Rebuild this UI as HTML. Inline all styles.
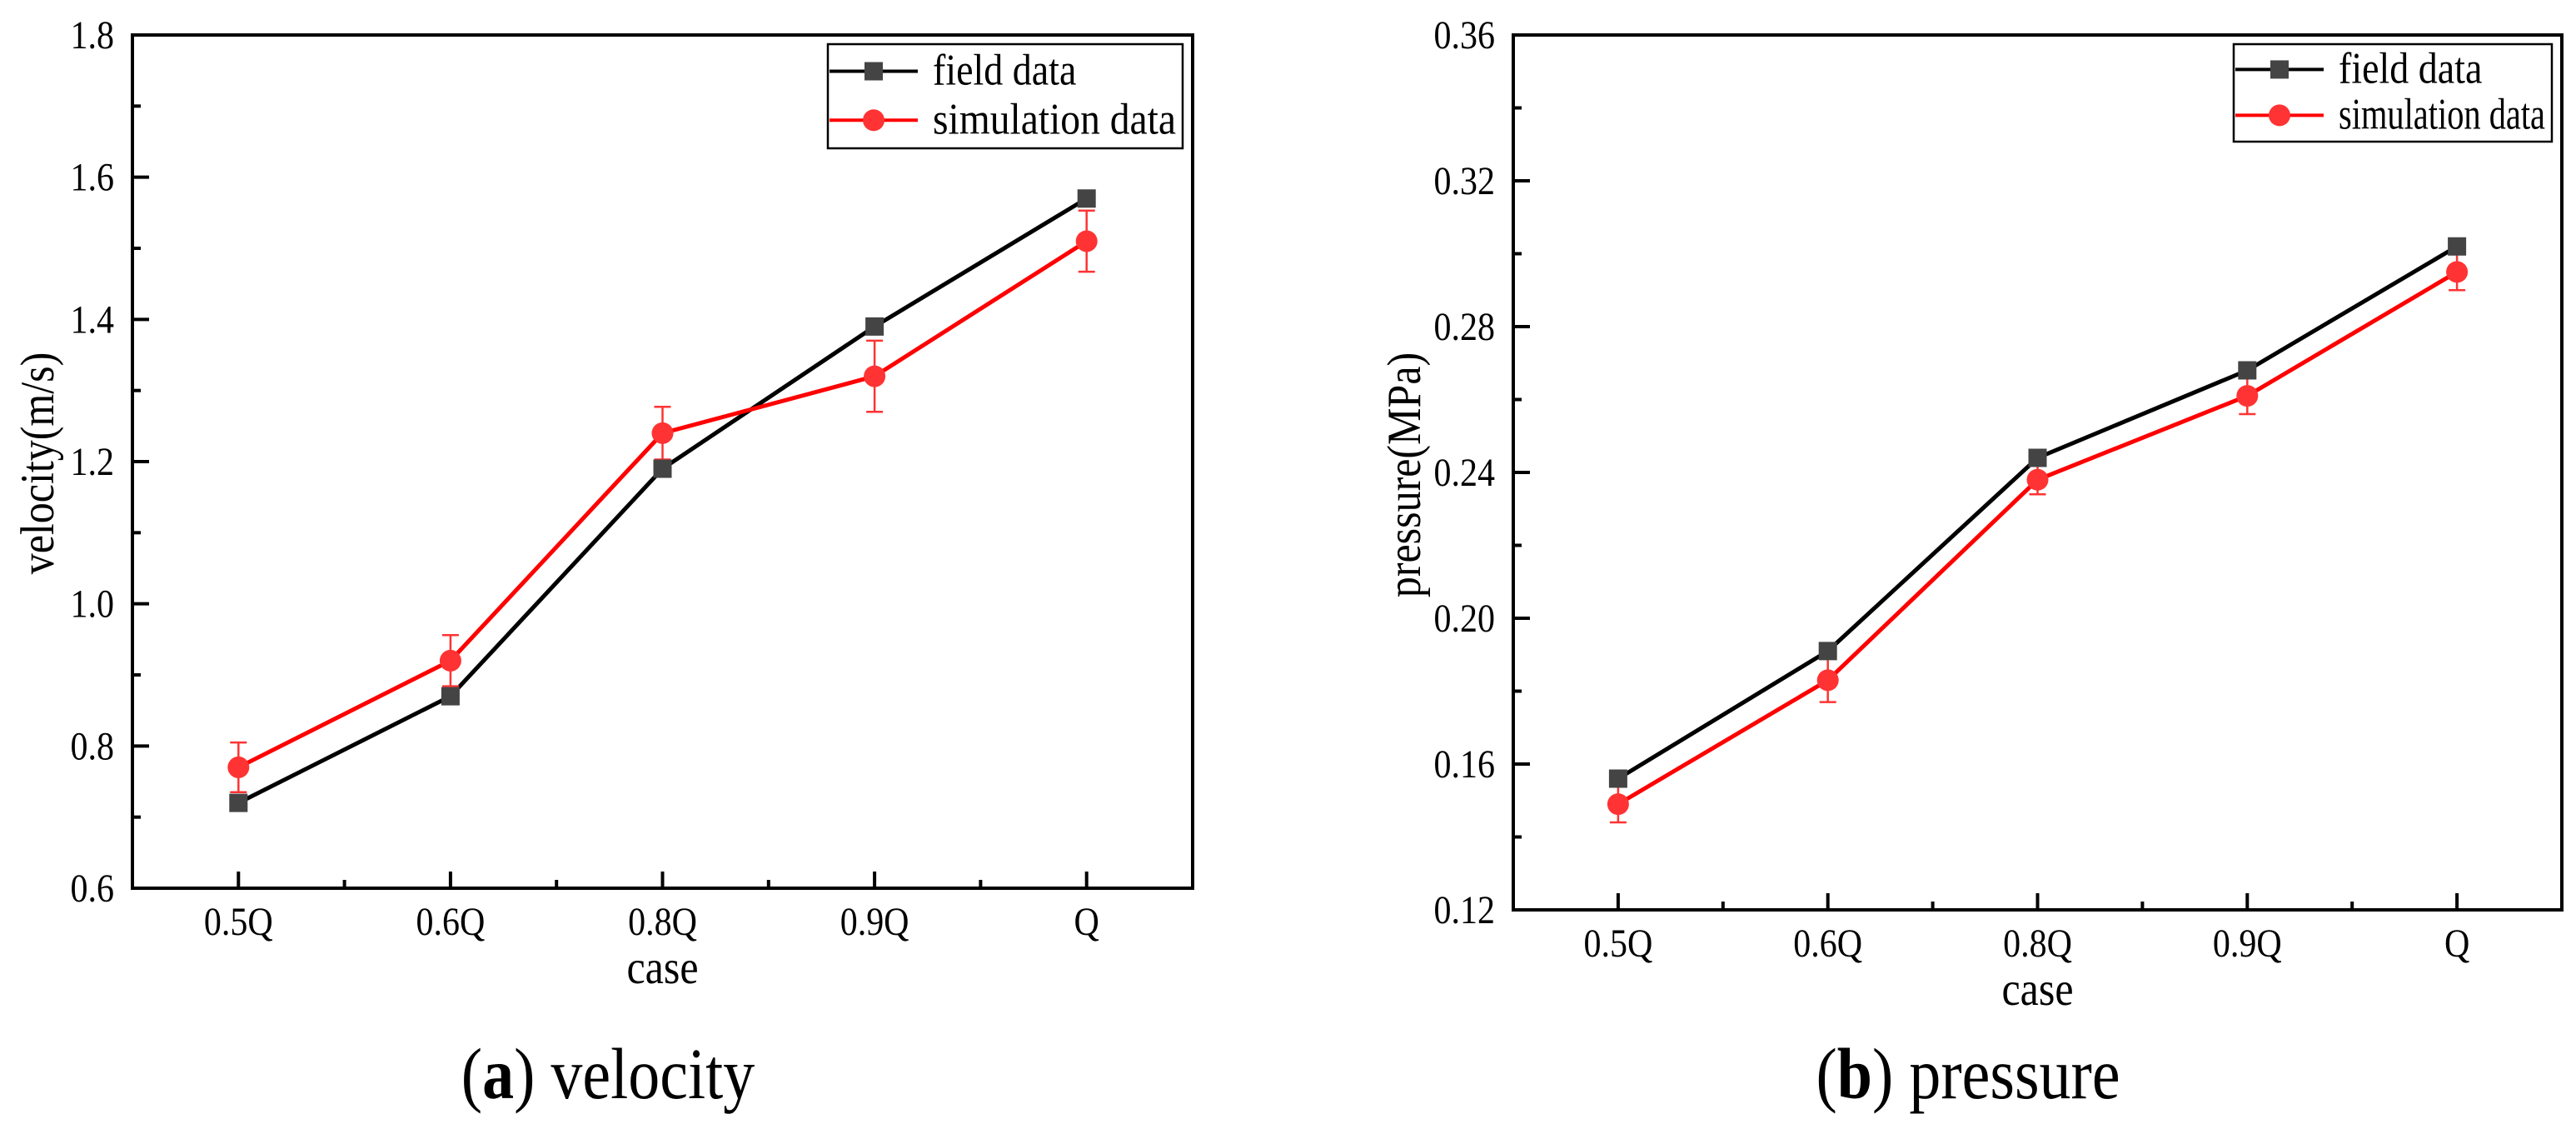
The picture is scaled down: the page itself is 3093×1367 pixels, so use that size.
<!DOCTYPE html>
<html><head><meta charset="utf-8"><style>
html,body{margin:0;padding:0;background:#fff;}
svg{display:block;font-family:"Liberation Serif",serif;}
</style></head><body>
<svg id="fig" width="3093" height="1367" viewBox="0 0 3093 1367" xmlns="http://www.w3.org/2000/svg"></svg>
<script>
const categories = ["0.5Q","0.6Q","0.8Q","0.9Q","Q"];
const velField = [0.72,0.87,1.19,1.39,1.57];
const velSim = [0.77,0.92,1.24,1.32,1.51];
const velErr = [0.035,0.036,0.037,0.05,0.043];
const velTicks = [0.6,0.8,1.0,1.2,1.4,1.6,1.8];
const velTickLabels = ["0.6","0.8","1.0","1.2","1.4","1.6","1.8"];
const presField = [0.156,0.191,0.244,0.268,0.302];
const presSim = [0.149,0.183,0.238,0.261,0.295];
const presErr = [0.005,0.006,0.004,0.005,0.005];
const presTicks = [0.12,0.16,0.20,0.24,0.28,0.32,0.36];
const presTickLabels = ["0.12","0.16","0.20","0.24","0.28","0.32","0.36"];

const NS="http://www.w3.org/2000/svg";
const svg=document.getElementById('fig');
const SY=1.14;
function mk(tag,attrs,parent){const e=document.createElementNS(NS,tag);for(const k in attrs)e.setAttribute(k,attrs[k]);(parent||svg).appendChild(e);return e;}
function txt(x,y,attrs,parent,rot){
  const a=Object.assign({},attrs);a.x=0;a.y=0;
  a.transform=`translate(${x},${y})`+(rot?' rotate(-90)':'')+` scale(1,${SY})`;
  return mk('text',a,parent);
}

function panel(p){
  const g=mk('g',{});
  
  
  const ymin=p.ticks[0], ymax=p.ticks[p.ticks.length-1];
  const n=categories.length, step=(p.x1-p.x0)/n;
  const xs=i=>p.x0+step*(i+0.5);
  const ys=v=>p.y1-(v-ymin)/(ymax-ymin)*(p.y1-p.y0);
  p.ticks.forEach((t,i)=>{
    const y=ys(t);
    const tk=mk('line',{x1:p.x0,x2:p.x0+20,y1:y,y2:y,stroke:'#000','stroke-width':4},g);
    
    
    const lb=txt(p.x0-22,y+16,{'font-size':42,'text-anchor':'end'},g);
    lb.textContent=p.tickLabels[i];
    
    
    if(i<p.ticks.length-1){
      const ym=ys((t+p.ticks[i+1])/2);
      const mt=mk('line',{x1:p.x0,x2:p.x0+10,y1:ym,y2:ym,stroke:'#000','stroke-width':4},g);
      
      
    }
  });
  categories.forEach((c,i)=>{
    const x=xs(i);
    const tk=mk('line',{x1:x,x2:x,y1:p.y1,y2:p.y1-20,stroke:'#000','stroke-width':4},g);
    
    
    if(i<n-1){
      const mt=mk('line',{x1:x+step/2,x2:x+step/2,y1:p.y1,y2:p.y1-10,stroke:'#000','stroke-width':4},g);
      
      
    }
    const lb=txt(x,p.y1+56,{'font-size':42,'text-anchor':'middle'},g);
    lb.textContent=c;
    
    
  });
  const fr=mk('rect',{x:p.x0,y:p.y0,width:p.x1-p.x0,height:p.y1-p.y0,fill:'none',stroke:'#000','stroke-width':4},g);
  
  
  const fl=mk('polyline',{points:p.field.map((v,i)=>xs(i)+','+ys(v)).join(' '),fill:'none',stroke:'#000','stroke-width':5},g);
  
  
  const sl=mk('polyline',{points:p.sim.map((v,i)=>xs(i)+','+ys(v)).join(' '),fill:'none',stroke:'#f00','stroke-width':5},g);
  
  
  p.sim.forEach((v,i)=>{
    const x=xs(i), e=p.err[i];
    const eb=mk('path',{d:`M${x},${ys(v+e)}V${ys(v-e)}M${x-10},${ys(v+e)}H${x+10}M${x-10},${ys(v-e)}H${x+10}`,stroke:'#f33','stroke-width':2.5,fill:'none'},g);
    
    
  });
  p.field.forEach((v,i)=>{
    const m=mk('rect',{x:xs(i)-11,y:ys(v)-11,width:22,height:22,fill:'#444'},g);
    
    
  });
  p.sim.forEach((v,i)=>{
    const m=mk('circle',{cx:xs(i),cy:ys(v),r:13,fill:'#f33'},g);
    
    
  });
  const lg=mk('g',{},g);
  
  
  mk('rect',{x:p.lx0,y:p.ly0,width:p.lx1-p.lx0,height:p.ly1-p.ly0,fill:'#fff',stroke:'#000','stroke-width':2.5},lg);
  const r1=p.ly0+(p.ly1-p.ly0)*0.26, r2=p.ly0+(p.ly1-p.ly0)*0.73;
  const e1=mk('g',{},lg);
  
  
  mk('line',{x1:p.lx0+2,x2:p.lx0+108,y1:r1,y2:r1,stroke:'#000','stroke-width':4},e1);
  mk('rect',{x:p.lx0+44,y:r1-11,width:22,height:22,fill:'#444'},e1);
  const t1=txt(p.lx0+126,r1+16,{'font-size':46},e1);t1.textContent='field data';
  const e2=mk('g',{},lg);
  
  
  mk('line',{x1:p.lx0+2,x2:p.lx0+108,y1:r2,y2:r2,stroke:'#f00','stroke-width':4},e2);
  mk('circle',{cx:p.lx0+55,cy:r2,r:13,fill:'#f33'},e2);
  const t2=txt(p.lx0+126,r2+16,{'font-size':46,textLength:p.lx1-p.lx0-134,lengthAdjust:'spacingAndGlyphs'},e2);t2.textContent='simulation data';
  const yt=txt(p.ytx,p.yty,{'font-size':50,'text-anchor':'middle'},g,true);
  yt.textContent=p.ytitle;
  
  
  const xt=txt((p.x0+p.x1)/2,p.y1+114,{'font-size':50,'text-anchor':'middle'},g);
  xt.textContent='case';
  
  
  const cp=txt(p.capx,1318,{'font-size':76,'text-anchor':'middle'},g);
  const b=mk('tspan',{},cp);b.textContent='(';
  const bb=mk('tspan',{'font-weight':'bold'},cp);bb.textContent=p.capLetter;
  const rest=mk('tspan',{},cp);rest.textContent=') '+p.capText;
  
  
}
panel({id:'velocity',x0:159,x1:1432,y0:42,y1:1066,ticks:velTicks,tickLabels:velTickLabels,field:velField,sim:velSim,err:velErr,
  lx0:994,lx1:1420,ly0:53,ly1:178,ytitle:'velocity(m/s)',ytx:64,yty:556,capx:730,capLetter:'a',capText:'velocity'});
panel({id:'pressure',x0:1817,x1:3076,y0:42,y1:1092,ticks:presTicks,tickLabels:presTickLabels,field:presField,sim:presSim,err:presErr,
  lx0:2682,lx1:3064,ly0:53,ly1:170,ytitle:'pressure(MPa)',ytx:1705,yty:570,capx:2363,capLetter:'b',capText:'pressure'});
</script>
</body></html>
